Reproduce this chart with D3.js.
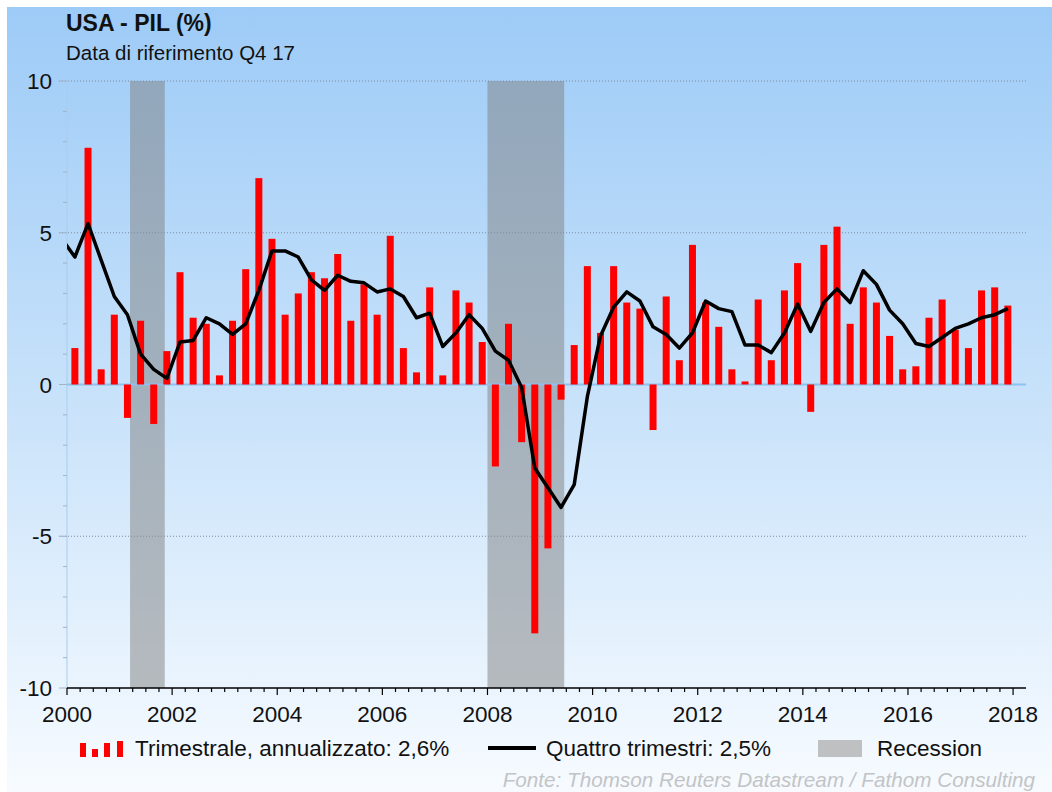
<!DOCTYPE html>
<html>
<head>
<meta charset="utf-8">
<script src="https://cdn.jsdelivr.net/npm/d3@7/dist/d3.min.js"></script>
<style>
	body { margin: 0; background: #fff; }
	svg text { font-family: "Liberation Sans", Arial, sans-serif; }
	.grid { stroke: #7d8ea3; stroke-width: 1px; stroke-dasharray: 1,2; }
</style>
</head>
<body>
<script>
// quarterly data, 2000Q1 .. 2017Q4 (annualised q/q, %)
var years = d3.range(2000, 2018);
var quarterly = [
	1.2, 7.8, 0.5, 2.3,
	-1.1, 2.1, -1.3, 1.1,
	3.7, 2.2, 2.0, 0.3,
	2.1, 3.8, 6.8, 4.8,
	2.3, 3.0, 3.7, 3.5,
	4.3, 2.1, 3.3, 2.3,
	4.9, 1.2, 0.4, 3.2,
	0.3, 3.1, 2.7, 1.4,
	-2.7, 2.0, -1.9, -8.2,
	-5.4, -0.5, 1.3, 3.9,
	1.7, 3.9, 2.7, 2.5,
	-1.5, 2.9, 0.8, 4.6,
	2.7, 1.9, 0.5, 0.1,
	2.8, 0.8, 3.1, 4.0,
	-0.9, 4.6, 5.2, 2.0,
	3.2, 2.7, 1.6, 0.5,
	0.6, 2.2, 2.8, 1.8,
	1.2, 3.1, 3.2, 2.6
];
// four-quarter growth, 1999Q4 .. 2017Q4
var fourQ = [
	4.8,
	4.2, 5.3, 4.1, 2.9,
	2.3, 1.0, 0.5, 0.2,
	1.4, 1.45, 2.2, 2.0,
	1.65, 2.0, 3.1, 4.4,
	4.4, 4.2, 3.45, 3.1,
	3.6, 3.4, 3.35, 3.05,
	3.15, 2.9, 2.2, 2.35,
	1.25, 1.7, 2.3, 1.85,
	1.1, 0.8, -0.1, -2.75,
	-3.4, -4.05, -3.3, -0.4,
	1.6, 2.55, 3.05, 2.75,
	1.9, 1.65, 1.2, 1.7,
	2.75, 2.5, 2.4, 1.3,
	1.3, 1.05, 1.7, 2.65,
	1.75, 2.7, 3.15, 2.7,
	3.75, 3.3, 2.45, 2.0,
	1.35, 1.25, 1.55, 1.85,
	2.0, 2.2, 2.3, 2.5
];
var recessions = [[2001.2, 2001.86], [2008.0, 2009.46]];
var xTickYears = d3.range(2000, 2019, 2);
var yTicks = [-10, -5, 0, 5, 10];

var W = 1052, H = 792;
var pLeft = 67, pRight = 1026, pTop = 81, pBottom = 688;

var svg = d3.select("body").append("svg")
	.attr("width", W)
	.attr("height", H);

var defs = svg.append("defs");
var grad = defs.append("linearGradient")
	.attr("id", "bg")
	.attr("x1", 0).attr("y1", 0).attr("x2", 0).attr("y2", 1);
grad.append("stop").attr("offset", "0%").attr("stop-color", "#9dcbf7");
grad.append("stop").attr("offset", "50%").attr("stop-color", "#c8e2fa");
grad.append("stop").attr("offset", "100%").attr("stop-color", "#f7fbff");

defs.append("clipPath").attr("id", "plot")
	.append("rect")
	.attr("x", pLeft).attr("y", 0)
	.attr("width", pRight - pLeft).attr("height", H);

svg.append("rect")
	.attr("x", 7).attr("y", 7)
	.attr("width", W - 7).attr("height", H - 7)
	.attr("fill", "url(#bg)");

var x = d3.scaleLinear()
	.domain([2000, 2000 + (pRight - pLeft) / 52.56])
	.range([pLeft, pRight]);
var y = d3.scaleLinear()
	.domain([-10, 10])
	.range([pBottom, pTop]);

// quarter position: bars sit a little after the quarter start
function qx(i) { return x(2000 + i * 0.25 + 0.15); }

var barData = quarterly.map(function(v, i) { return { i: i, v: v }; });
var lineData = fourQ.map(function(v, i) { return { i: i - 1, v: v }; });

// recession shading
svg.selectAll("rect.rec")
	.data(recessions)
	.enter().append("rect")
	.attr("class", "rec")
	.attr("x", function(d) { return x(d[0]); })
	.attr("width", function(d) { return x(d[1]) - x(d[0]); })
	.attr("y", pTop)
	.attr("height", pBottom - pTop)
	.attr("fill", "rgba(128,128,128,0.5)");

// grid lines
svg.selectAll("line.grid")
	.data([10, 5, -5])
	.enter().append("line")
	.attr("class", "grid")
	.attr("x1", pLeft - 8).attr("x2", pRight)
	.attr("y1", function(d) { return y(d); })
	.attr("y2", function(d) { return y(d); });

// y axis: faint line and ticks
svg.append("line")
	.attr("x1", pLeft).attr("x2", pLeft)
	.attr("y1", pTop).attr("y2", pBottom)
	.attr("stroke", "#a9cdec").attr("stroke-width", 1);
svg.selectAll("line.ytick")
	.data(d3.range(-10, 11))
	.enter().append("line")
	.attr("class", "ytick")
	.attr("x1", function(d) { return d % 5 === 0 ? pLeft - 8 : pLeft - 4; })
	.attr("x2", pLeft)
	.attr("y1", function(d) { return y(d); })
	.attr("y2", function(d) { return y(d); })
	.attr("stroke", "#9fb4c8").attr("stroke-width", 1);
svg.selectAll("text.ylab")
	.data(yTicks)
	.enter().append("text")
	.attr("class", "ylab")
	.attr("x", 52)
	.attr("y", function(d) { return y(d); })
	.attr("dy", "0.36em")
	.attr("text-anchor", "end")
	.attr("font-size", "22.5px")
	.attr("fill", "#111")
	.text(function(d) { return d; });

// zero line
svg.append("line")
	.attr("x1", pLeft).attr("x2", pRight)
	.attr("y1", y(0)).attr("y2", y(0))
	.attr("stroke", "#8ec3f0").attr("stroke-width", 2);

// bars
var bw = 7;
svg.selectAll("rect.bar")
	.data(barData)
	.enter().append("rect")
	.attr("class", "bar")
	.attr("x", function(d) { return qx(d.i) - bw / 2; })
	.attr("width", bw)
	.attr("y", function(d) { return y(Math.max(0, d.v)); })
	.attr("height", function(d) { return Math.abs(y(d.v) - y(0)); })
	.attr("fill", "#ff0000");

// four-quarter line
var line = d3.line()
	.x(function(d) { return qx(d.i); })
	.y(function(d) { return y(d.v); });
svg.append("path")
	.datum(lineData)
	.attr("d", line)
	.attr("clip-path", "url(#plot)")
	.attr("fill", "none")
	.attr("stroke", "#000")
	.attr("stroke-width", 3.5)
	.attr("stroke-linejoin", "round");

// x axis
svg.append("line")
	.attr("x1", pLeft).attr("x2", pRight)
	.attr("y1", pBottom).attr("y2", pBottom)
	.attr("stroke", "#000").attr("stroke-width", 1.5);
svg.selectAll("line.xtick")
	.data(d3.range(0, 18 * 4 + 1))
	.enter().append("line")
	.attr("class", "xtick")
	.attr("x1", function(d) { return x(2000 + d / 4); })
	.attr("x2", function(d) { return x(2000 + d / 4); })
	.attr("y1", pBottom)
	.attr("y2", function(d) { return d % 8 === 0 ? pBottom + 7 : pBottom + 4; })
	.attr("stroke", "#000").attr("stroke-width", 1.2);
svg.selectAll("text.xlab")
	.data(xTickYears)
	.enter().append("text")
	.attr("class", "xlab")
	.attr("x", function(d) { return x(d); })
	.attr("y", 722)
	.attr("text-anchor", "middle")
	.attr("font-size", "22.5px")
	.attr("fill", "#111")
	.text(function(d) { return d; });

// titles
svg.append("text")
	.attr("x", 66).attr("y", 31)
	.attr("font-size", "23px")
	.attr("font-weight", "bold")
	.attr("fill", "#111")
	.text("USA - PIL (%)");
svg.append("text")
	.attr("x", 66).attr("y", 60)
	.attr("font-size", "20.5px")
	.attr("fill", "#111")
	.text("Data di riferimento Q4 17");

// legend
var lg = svg.append("g").attr("font-size", "22.5px").attr("fill", "#111");
[[80, 743], [92, 749], [104, 743], [117, 741]].forEach(function(b) {
	lg.append("rect")
		.attr("x", b[0]).attr("y", b[1])
		.attr("width", 6).attr("height", 757 - b[1])
		.attr("fill", "#ff0000");
});
lg.append("text").attr("x", 135).attr("y", 756)
	.text("Trimestrale, annualizzato: 2,6%");
lg.append("line")
	.attr("x1", 488).attr("x2", 536)
	.attr("y1", 748).attr("y2", 748)
	.attr("stroke", "#000").attr("stroke-width", 4);
lg.append("text").attr("x", 546).attr("y", 756)
	.text("Quattro trimestri: 2,5%");
lg.append("rect")
	.attr("x", 818).attr("y", 740)
	.attr("width", 44).attr("height", 17)
	.attr("fill", "#bfc0c2");
lg.append("text").attr("x", 877).attr("y", 756)
	.text("Recession");

svg.append("text")
	.attr("x", 1035).attr("y", 787)
	.attr("text-anchor", "end")
	.attr("font-size", "20.7px")
	.attr("font-style", "italic")
	.attr("fill", "#c2c4c6")
	.text("Fonte: Thomson Reuters Datastream / Fathom Consulting");
</script>
</body>
</html>
